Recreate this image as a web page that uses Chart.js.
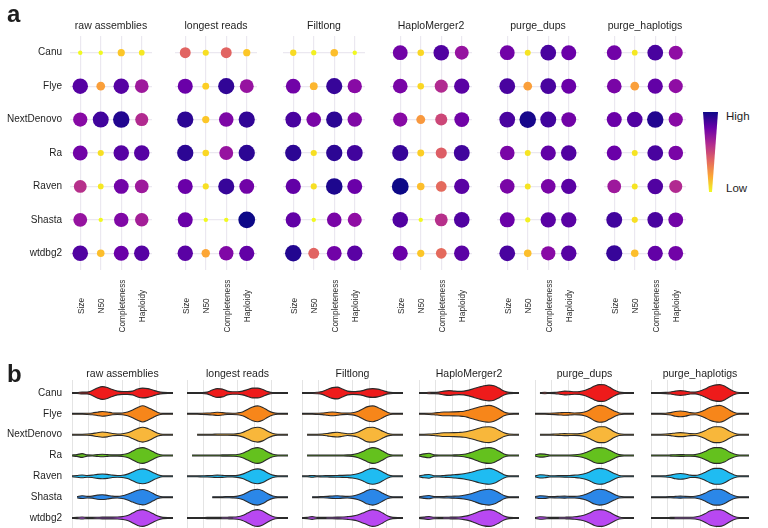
<!DOCTYPE html>
<html>
<head>
<meta charset="utf-8">
<script src="https://cdn.jsdelivr.net/npm/chart.js@4.4.1/dist/chart.umd.min.js"></script>
<style>
  body { margin: 0; background: #fff; }
  #fig { position: relative; width: 768px; height: 528px; overflow: hidden; font-family: "Liberation Sans", Arial, sans-serif; color: #1e1e1e; }
  #fig canvas { position: absolute; }
  .lbl { position: absolute; white-space: nowrap; }
  .tag { font-size: 24px; font-weight: bold; line-height: 24px; }
  .ft { font-size: 10.5px; line-height: 12px; text-align: center; }
  .lg { font-size: 11.5px; line-height: 14px; }
  #wedge { position: absolute; left: 703px; top: 112px; width: 15px; height: 80px;
    background: linear-gradient(to bottom, #0d0887, #6a00a8, #b12a90, #e16462, #fca636, #f0f921);
    clip-path: polygon(0 0, 100% 0, 60% 100%, 40% 100%); }
</style>
</head>
<body>
<div id="fig"></div>
<script>
const assemblers = ['Canu', 'Flye', 'NextDenovo', 'Ra', 'Raven', 'Shasta', 'wtdbg2'];
const strategies = ['raw assemblies', 'longest reads', 'Filtlong', 'HaploMerger2', 'purge_dups', 'purge_haplotigs'];
const metrics = ['Size', 'N50', 'Completeness', 'Haploidy'];

// panel a: scaled score (0 low .. 1 high), rows = assemblers, columns = metrics
const rawScores = [
  [0.00, 0.00, 0.12, 0.04],
  [0.85, 0.22, 0.85, 0.66],
  [0.72, 0.90, 0.96, 0.60],
  [0.78, 0.06, 0.85, 0.85],
  [0.58, 0.04, 0.78, 0.66],
  [0.68, 0.00, 0.74, 0.64],
  [0.86, 0.14, 0.80, 0.85]
];
const longestScores = [
  [0.40, 0.06, 0.40, 0.12],
  [0.80, 0.10, 0.93, 0.68],
  [0.94, 0.12, 0.75, 0.93],
  [0.94, 0.08, 0.68, 0.94],
  [0.80, 0.06, 0.92, 0.78],
  [0.80, 0.00, 0.00, 1.00],
  [0.84, 0.20, 0.74, 0.82]
];
const filtlongScores = [
  [0.07, 0.02, 0.14, 0.00],
  [0.78, 0.16, 0.92, 0.72],
  [0.88, 0.76, 0.94, 0.74],
  [0.94, 0.06, 0.94, 0.90],
  [0.82, 0.06, 0.97, 0.80],
  [0.82, 0.00, 0.76, 0.70],
  [0.96, 0.40, 0.78, 0.84]
];
const haploScores = [
  [0.78, 0.08, 0.86, 0.68],
  [0.76, 0.08, 0.60, 0.84],
  [0.72, 0.24, 0.50, 0.78],
  [0.92, 0.10, 0.42, 0.90],
  [1.00, 0.14, 0.38, 0.84],
  [0.86, 0.00, 0.58, 0.86],
  [0.80, 0.12, 0.38, 0.84]
];
const purgeDupsScores = [
  [0.78, 0.05, 0.88, 0.80],
  [0.88, 0.22, 0.88, 0.80],
  [0.88, 0.98, 0.90, 0.78],
  [0.76, 0.05, 0.82, 0.86],
  [0.76, 0.05, 0.76, 0.84],
  [0.80, 0.02, 0.84, 0.84],
  [0.88, 0.14, 0.72, 0.85]
];
const purgeHapScores = [
  [0.78, 0.04, 0.88, 0.70],
  [0.76, 0.22, 0.82, 0.70],
  [0.80, 0.86, 0.96, 0.72],
  [0.80, 0.05, 0.88, 0.76],
  [0.66, 0.05, 0.86, 0.60],
  [0.90, 0.06, 0.88, 0.78],
  [0.92, 0.14, 0.82, 0.78]
];

// panel b: violin outer half-widths (px) sampled along the score axis
const gridPos = [0, 0.3, 0.6, 0.9, 1.2, 1.5, 1.8, 2.1, 2.4, 2.7, 3, 3.3, 3.6, 3.9, 4.2, 4.5, 4.8, 5.1, 5.4, 5.7, 6];
const rawDensity = [
  [1, 1, 1.5, 1.5, 3, 5.5, 7, 6, 4, 2.5, 2, 2, 2.5, 4.5, 5.5, 5, 3.5, 2, 1.2, 1, 0.8],
  [0.6, 0.8, 1, 1.2, 1.5, 2.2, 3, 2.5, 1.5, 1.3, 1.5, 2.5, 4.5, 7, 8.7, 7, 4.5, 2, 1, 0.7, 0.5],
  [0.6, 0.8, 1, 1.2, 1.6, 2.5, 3.2, 2.8, 1.7, 1.3, 1.5, 2.5, 4.5, 6.8, 8, 6.8, 4.5, 2, 1, 0.7, 0.5],
  [0.6, 1.5, 2.5, 1.2, 1, 1.5, 1.8, 1.5, 1.2, 1.2, 1.5, 2.5, 5, 7.5, 8.5, 7, 4.5, 2, 1, 0.7, 0.5],
  [0.8, 1.5, 2, 1.5, 1.8, 2.6, 3, 2.6, 1.8, 1.5, 1.7, 2.8, 5, 7.2, 8, 7, 4.5, 2.2, 1, 0.7, 0.5],
  [null, 1.2, 2, 1.4, 1.6, 2.6, 3, 2.4, 1.6, 1.4, 2, 3.5, 5.5, 7.5, 8.3, 7, 4.5, 2, 1, 0.7, 0.5],
  [0.6, 1.2, 1.6, 1.2, 1.2, 1.3, 1.5, 1.5, 1.5, 1.6, 2, 3, 5.5, 8, 9, 7.5, 5, 2.5, 1.2, 0.8, 0.5]
];
const longestDensity = [
  [0.5, 0.7, 0.8, 1, 1.5, 3.5, 5, 4.5, 2.5, 1.8, 1.8, 2.5, 4, 5.5, 5.5, 4, 2, 1, 0.8, 0.6, 0.5],
  [0.5, 0.8, 1, 1.2, 1.4, 1.7, 2.2, 1.8, 1.3, 1.2, 1.5, 2.5, 5, 7.5, 8.5, 7, 4, 1.8, 1, 0.7, 0.5],
  [null, null, 0.8, 1, 1, 1, 1.2, 1.2, 1.2, 1.3, 1.6, 2.8, 5, 7.2, 8, 6.8, 4, 1.8, 1, 0.7, 0.5],
  [null, 0.6, 0.8, 1, 1, 1, 1, 1.2, 1.2, 1.3, 1.6, 2.8, 5.2, 7.5, 8.5, 7, 4, 1.8, 1, 0.7, 0.5],
  [0.6, 0.8, 1, 1.2, 1.3, 1.5, 1.8, 1.6, 1.3, 1.3, 1.6, 2.8, 5, 7.2, 8, 6.8, 4, 1.8, 1, 0.7, 0.5],
  [null, null, null, null, null, 0.8, 1, 1, 1.2, 1.3, 1.6, 3, 5.5, 7.8, 8.5, 7, 4, 1.8, 1, 0.7, 0.5],
  [0.6, 0.8, 1, 1, 1.2, 1.2, 1.2, 1.3, 1.4, 1.5, 1.8, 3, 5.5, 8, 9, 7.5, 4.5, 2, 1, 0.7, 0.5]
];
const filtlongDensity = [
  [0.6, 0.8, 1, 1.3, 2, 4, 6, 6.5, 4.5, 2.5, 2, 2.2, 3, 4.5, 5, 4.5, 3, 1.5, 1, 0.7, 0.5],
  [0.5, 0.8, 1, 1.2, 1.4, 2, 2.5, 2, 1.4, 1.3, 1.6, 3, 5.5, 7.8, 8.5, 7, 4.5, 2, 1, 0.7, 0.5],
  [null, 0.6, 0.8, 1, 1.2, 1.8, 2.6, 3, 2.2, 1.5, 1.8, 3, 5.5, 7.8, 8, 6.5, 4, 1.8, 1, 0.7, 0.5],
  [null, 0.6, 0.8, 1, 1, 1, 1, 1, 1.1, 1.2, 1.5, 2.5, 4.5, 7, 8.5, 7.5, 5, 2.2, 1, 0.7, 0.5],
  [0.6, 1, 1.5, 1, 1.2, 1.3, 1.4, 1.5, 1.6, 1.8, 2.2, 3.2, 5, 7.5, 8.5, 7.5, 5, 2.2, 1, 0.7, 0.5],
  [null, null, 0.8, 1, 1.2, 1.4, 1.8, 2, 1.6, 1.4, 1.8, 3, 5, 7.5, 8.5, 7.2, 4.5, 2, 1, 0.7, 0.5],
  [0.6, 1.2, 2, 1.2, 1.2, 1.3, 1.4, 1.5, 1.6, 2, 2.5, 3.5, 5.5, 7.5, 9, 8, 5.5, 2.5, 1.2, 0.7, 0.5]
];
const haploDensity = [
  [0.6, 1, 1.3, 1.2, 1.5, 2.5, 3, 2.5, 2.2, 2.5, 3.5, 5, 6.5, 7.8, 8.5, 7.8, 5.5, 2.5, 1.2, 0.7, 0.5],
  [0.6, 1, 1.2, 1.5, 2, 2.5, 2.5, 2.6, 2.8, 3.2, 4.5, 6, 7.5, 8.5, 9, 8, 5.5, 2.5, 1.2, 0.7, 0.5],
  [0.6, 1, 1.2, 1.5, 2, 2.5, 2.5, 2.6, 2.8, 3.2, 4.2, 5.5, 7, 8.2, 8.5, 7.5, 5, 2.5, 1.2, 0.7, 0.5],
  [0.6, 2.2, 2.8, 1.2, 1, 1, 1, 1.2, 1.3, 1.8, 3, 4.5, 6.5, 8, 8.5, 7.5, 5, 2.2, 1, 0.7, 0.5],
  [0.6, 2, 2.5, 1.2, 1.2, 1.5, 1.8, 2.2, 2.6, 3.2, 4.2, 5.5, 7, 8, 8.5, 7.5, 5, 2.2, 1, 0.7, 0.5],
  [0.6, 1.8, 2.2, 1.2, 1.2, 1.3, 1.5, 1.6, 1.8, 2.5, 3.5, 5, 6.8, 8, 8.5, 7.5, 5, 2.2, 1, 0.7, 0.5],
  [0.6, 1.5, 2, 1.3, 1.2, 1.3, 1.4, 1.5, 1.6, 2.2, 3.2, 5, 7, 8.5, 9, 8, 5.5, 2.5, 1.2, 0.7, 0.5]
];
const purgeDupsDensity = [
  [null, 1, 1.3, 1, 1.2, 1.8, 2.5, 2.2, 1.8, 2, 3, 5, 7.5, 9, 8.8, 6.5, 3.5, 1.5, 1, 0.7, 0.5],
  [0.6, 0.8, 1, 1.2, 1.4, 1.7, 2, 1.8, 1.5, 1.6, 2.5, 4.5, 7.5, 9, 8.5, 6, 3.5, 1.5, 1, 0.7, 0.5],
  [null, 0.8, 1, 1, 1.2, 1.4, 1.6, 1.5, 1.4, 1.6, 2.5, 4.5, 7, 8.5, 8.5, 6.5, 3.5, 1.5, 1, 0.7, 0.5],
  [0.8, 2.2, 2, 1, 1, 1, 1, 1.1, 1.3, 1.8, 3, 5, 7.5, 8.5, 8, 6, 3.5, 1.5, 1, 0.7, 0.5],
  [0.8, 2.2, 2, 1.2, 1.2, 1.3, 1.4, 1.5, 1.8, 2.2, 3.2, 5, 7.5, 8.5, 8, 6, 3.5, 1.5, 1, 0.7, 0.5],
  [0.8, 2, 1.8, 1.2, 1.3, 1.5, 1.6, 1.4, 1.4, 1.8, 3, 5, 7.5, 8.5, 8, 6, 3.5, 1.5, 1, 0.7, 0.5],
  [0.8, 1.8, 1.6, 1.2, 1.2, 1.3, 1.4, 1.5, 1.8, 2.5, 3.5, 5.5, 8, 9, 8.5, 6.5, 3.8, 1.6, 1, 0.7, 0.5]
];
const purgeHapDensity = [
  [0.5, 0.8, 1, 1.2, 1.6, 2.5, 3, 2.5, 1.6, 1.5, 2.5, 4.5, 7, 8.5, 9, 7.5, 4.5, 2, 1, 0.7, 0.5],
  [0.5, 0.8, 1, 1.2, 1.8, 3, 3.5, 3, 1.8, 1.5, 2.5, 4.5, 7, 8.5, 9, 7.5, 4.5, 2, 1, 0.7, 0.5],
  [0.5, 0.8, 1, 1.2, 1.6, 2.3, 2.6, 2.3, 1.6, 1.5, 2.5, 4.5, 7, 8.5, 8.5, 7, 4.2, 2, 1, 0.7, 0.5],
  [0.5, 0.8, 1, 1, 1.2, 1.4, 1.5, 1.4, 1.3, 1.5, 2.5, 4.5, 7, 8.5, 8.5, 7, 4.2, 2, 1, 0.7, 0.5],
  [0.5, 0.8, 1, 1.2, 1.8, 3, 3.5, 3, 1.8, 1.6, 2.5, 4.5, 7, 8.5, 8.5, 7, 4.2, 2, 1, 0.7, 0.5],
  [0.5, 0.8, 1, 1, 1.2, 1.4, 1.6, 1.4, 1.3, 1.5, 2.5, 4.5, 7, 8.5, 8.5, 7, 4.2, 2, 1, 0.7, 0.5],
  [0.5, 0.8, 1, 1, 1.2, 1.3, 1.4, 1.4, 1.4, 1.6, 2.6, 4.8, 7.5, 8.8, 9, 7.5, 4.5, 2, 1, 0.7, 0.5]
];

const scoreSets = [rawScores, longestScores, filtlongScores, haploScores, purgeDupsScores, purgeHapScores];
const densitySets = [rawDensity, longestDensity, filtlongDensity, haploDensity, purgeDupsDensity, purgeHapDensity];
const violinColors = ['#ee1b1b', '#f7861a', '#f8b73b', '#64c11e', '#1fbcf2', '#2b87e8', '#b848f2'];

const FONT = '"Liberation Sans", Arial, sans-serif';
const fig = document.getElementById('fig');

function addCanvas(left, top, w, h) {
  const c = document.createElement('canvas');
  c.width = w;
  c.height = h;
  c.style.left = left + 'px';
  c.style.top = top + 'px';
  fig.appendChild(c);
  return c;
}

function addText(text, cls, left, top, width) {
  const d = document.createElement('div');
  d.className = 'lbl ' + cls;
  d.textContent = text;
  d.style.left = left + 'px';
  d.style.top = top + 'px';
  if (width) d.style.width = width + 'px';
  fig.appendChild(d);
}

const plasmaStops = ['#0d0887', '#41049d', '#6a00a8', '#8f0da4', '#b12a90', '#cc4778',
                     '#e16462', '#f2844b', '#fca636', '#fcce25', '#f0f921'];
const plasmaRgb = plasmaStops.map(h => {
  const n = parseInt(h.slice(1), 16);
  return [n >> 16, (n >> 8) & 255, n & 255];
});
function plasma(t) {
  t = Math.min(1, Math.max(0, t));
  const p = t * (plasmaRgb.length - 1);
  const i = Math.min(plasmaRgb.length - 2, Math.floor(p));
  const f = p - i;
  const c = plasmaRgb[i].map((a, k) => Math.round(a + (plasmaRgb[i + 1][k] - a) * f));
  return 'rgb(' + c.join(',') + ')';
}
const dotRadius = v => 2.2 + 6.2 * Math.pow(v, 0.7);

// rotated metric names under each facet of panel a
const metricLabels = {
  id: 'metricLabels',
  afterDraw(chart) {
    const {ctx, chartArea} = chart;
    const x = chart.scales.x;
    ctx.save();
    ctx.fillStyle = '#2a2a2a';
    ctx.font = '8.3px ' + FONT;
    ctx.textAlign = 'center';
    ctx.textBaseline = 'middle';
    metrics.forEach((m, j) => {
      ctx.save();
      ctx.translate(x.getPixelForValue(j) + 1, chartArea.bottom + 36);
      ctx.rotate(-Math.PI / 2);
      ctx.fillText(m, 0, 0);
      ctx.restore();
    });
    ctx.restore();
  }
};

// ---- panel a: dot matrix ----
const aLeft = [70, 175, 283, 390, 497, 604];
const aTop = 36, aW = 82, aH = 234, pad = 20;
const gridA = '#ebe8f0';

scoreSets.forEach((scores, f) => {
  const first = f === 0;
  const yw = first ? aLeft[0] : 0;
  const canvas = addCanvas(aLeft[f] - yw, aTop - pad, aW + yw, aH + pad + 70);
  const points = [];
  scores.forEach((row, i) => row.forEach((v, j) => points.push({x: metrics[j], y: assemblers[i], v: v})));
  new Chart(canvas, {
    type: 'scatter',
    data: {
      datasets: [{
        data: points,
        pointRadius: c => dotRadius(c.raw.v),
        pointBackgroundColor: c => plasma(1 - c.raw.v),
        pointBorderWidth: 0
      }]
    },
    options: {
      responsive: false,
      animation: false,
      layout: {autoPadding: false, padding: {top: pad, bottom: 70}},
      plugins: {legend: {display: false}, tooltip: {enabled: false}},
      scales: {
        x: {
          type: 'category', labels: metrics, offset: true,
          grid: {offset: false, color: gridA, lineWidth: 1.2, drawTicks: false},
          border: {display: false},
          ticks: {display: false}
        },
        y: {
          type: 'category', labels: assemblers, offset: true,
          grid: {offset: false, color: gridA, lineWidth: 1.2, drawTicks: false},
          border: {display: false},
          ticks: {display: first, padding: 8, color: '#1e1e1e', font: {family: FONT, size: 10}},
          afterFit: first ? s => { s.width = yw; } : undefined
        }
      }
    },
    plugins: [metricLabels]
  });
  addText(strategies[f], 'ft', aLeft[f], 19, aW);
});

// ---- panel b: violins ----
const bLeft = [72, 187, 302, 419, 535, 651];
const bW = [101, 101, 101, 100, 99, 98];
const bTop = 380, bH = 148;
const pxToRow = 1 / 20.8;
const outline = 1.1;
// measured half-widths include the outline stroke, so the path sits half a stroke inside
const pathHalf = h => Math.max(h - 0.6, 0.45) * pxToRow;

densitySets.forEach((dens, f) => {
  const first = f === 0;
  const yw = first ? bLeft[0] : 0;
  const canvas = addCanvas(bLeft[f] - yw, bTop - pad, bW[f] + yw, bH + 2 * pad);
  const datasets = [];
  assemblers.forEach((name, i) => {
    const d = dens[i];
    const common = {
      borderColor: '#2a2a2a', borderWidth: outline, pointRadius: 0,
      cubicInterpolationMode: 'monotone', spanGaps: false
    };
    datasets.push(Object.assign({
      label: name + ' upper', fill: false,
      data: d.map((h, k) => ({x: gridPos[k], y: h === null ? null : i - pathHalf(h)}))
    }, common));
    datasets.push(Object.assign({
      label: name, fill: '-1', backgroundColor: violinColors[i],
      data: d.map((h, k) => ({x: gridPos[k], y: h === null ? null : i + pathHalf(h)}))
    }, common));
  });
  new Chart(canvas, {
    type: 'line',
    data: {datasets: datasets},
    options: {
      responsive: false,
      animation: false,
      layout: {autoPadding: false, padding: {top: pad, bottom: pad}},
      plugins: {legend: {display: false}, tooltip: {enabled: false}},
      scales: {
        x: {
          type: 'linear', min: 0, max: 6,
          grid: {color: '#e4e4e4', lineWidth: 1, drawTicks: false},
          border: {display: false},
          ticks: {display: false, stepSize: 1}
        },
        y: {
          type: 'linear', reverse: true, min: -0.624, max: 6.48,
          display: first,
          grid: {display: false, drawTicks: false},
          border: {display: false},
          afterBuildTicks: s => { s.ticks = assemblers.map((_, i) => ({value: i})); },
          ticks: {padding: 10, color: '#1e1e1e', font: {family: FONT, size: 10}, callback: v => assemblers[v]},
          afterFit: first ? s => { s.width = yw; } : undefined
        }
      }
    }
  });
  addText(strategies[f], 'ft', bLeft[f], 367, bW[f]);
});

// panel tags and colour legend
addText('a', 'tag', 7, 2);
addText('b', 'tag', 7, 362);
const wedge = document.createElement('div');
wedge.id = 'wedge';
fig.appendChild(wedge);
addText('High', 'lg', 726, 109);
addText('Low', 'lg', 726, 181);
</script>
</body>
</html>
